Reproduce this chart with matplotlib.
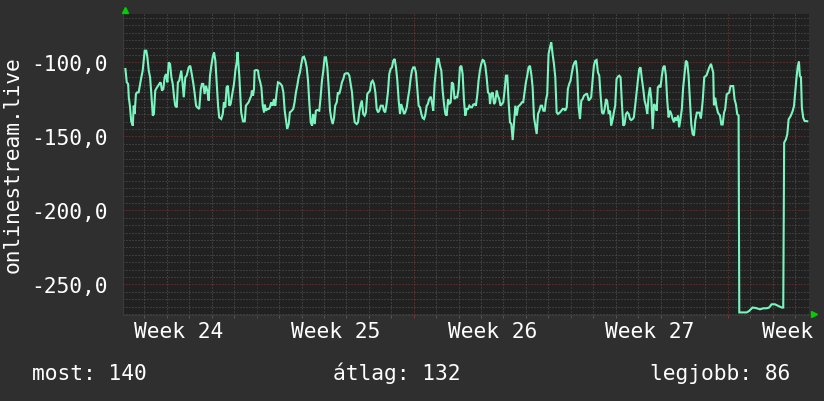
import matplotlib
matplotlib.use('Agg')
import matplotlib.pyplot as plt
from matplotlib.ticker import MultipleLocator, FuncFormatter

plt.rcParams['font.family'] = ['DejaVu Sans Mono']

# time in days since the start of week 24
days = [
    1.15, 1.21, 1.27, 1.30, 1.35, 1.41, 1.48, 1.52, 1.56, 1.62, 1.67, 1.74, 1.86, 1.92, 2.01, 2.08,
    2.13, 2.19, 2.25, 2.30, 2.37, 2.42, 2.48, 2.56, 2.66, 2.72, 2.78, 2.84, 2.90, 2.96, 3.02, 3.08,
    3.14, 3.20, 3.26, 3.32, 3.37, 3.44, 3.49, 3.55, 3.64, 3.70, 3.75, 3.82, 3.88, 3.97, 4.04, 4.12,
    4.18, 4.24, 4.30, 4.35, 4.44, 4.51, 4.56, 4.62, 4.68, 4.74, 4.80, 4.86, 4.92, 4.98, 5.04, 5.10,
    5.16, 5.22, 5.28, 5.33, 5.42, 5.49, 5.54, 5.60, 5.66, 5.72, 5.78, 5.84, 5.90, 5.99, 6.05, 6.11,
    6.15, 6.23, 6.26, 6.31, 6.39, 6.47, 6.52, 6.58, 6.64, 6.70, 6.76, 6.79, 6.84, 6.88, 6.91, 6.98,
    7.06, 7.10, 7.16, 7.21, 7.27, 7.33, 7.36, 7.42, 7.47, 7.54, 7.59, 7.65, 7.71, 7.77, 7.83, 7.89,
    7.95, 8.04, 8.13, 8.19, 8.25, 8.31, 8.36, 8.43, 8.48, 8.54, 8.63, 8.69, 8.75, 8.81, 8.87, 8.93,
    8.99, 9.05, 9.11, 9.17, 9.23, 9.29, 9.35, 9.41, 9.47, 9.52, 9.59, 9.64, 9.70, 9.79, 9.85, 9.91,
    9.97, 10.03, 10.09, 10.15, 10.21, 10.27, 10.33, 10.39, 10.45, 10.50, 10.57, 10.62, 10.68, 10.74,
    10.80, 10.86, 10.92, 10.98, 11.07, 11.13, 11.19, 11.25, 11.31, 11.37, 11.46, 11.52, 11.57, 11.64,
    11.69, 11.75, 11.81, 11.87, 11.93, 11.99, 12.05, 12.11, 12.17, 12.23, 12.29, 12.35, 12.41, 12.46,
    12.53, 12.62, 12.67, 12.73, 12.79, 12.85, 12.91, 12.97, 13.03, 13.09, 13.15, 13.21, 13.27, 13.33,
    13.39, 13.44, 13.51, 13.57, 13.62, 13.69, 13.74, 13.80, 13.86, 13.92, 13.98, 14.04, 14.10, 14.16,
    14.22, 14.28, 14.34, 14.40, 14.46, 14.51, 14.58, 14.63, 14.69, 14.76, 14.81, 14.87, 14.93, 14.99,
    15.05, 15.11, 15.17, 15.23, 15.29, 15.35, 15.41, 15.47, 15.53, 15.58, 15.65, 15.70, 15.76, 15.82,
    15.88, 15.94, 16.00, 16.06, 16.12, 16.18, 16.24, 16.30, 16.36, 16.42, 16.48, 16.54, 16.60, 16.65,
    16.72, 16.77, 16.83, 16.89, 16.95, 17.01, 17.07, 17.13, 17.19, 17.25, 17.31, 17.37, 17.40, 17.46,
    17.52, 17.58, 17.63, 17.70, 17.75, 17.81, 17.87, 17.93, 17.99, 18.05, 18.11, 18.17, 18.23, 18.29,
    18.35, 18.41, 18.47, 18.53, 18.59, 18.65, 18.70, 18.77, 18.82, 18.88, 18.94, 19.00, 19.06, 19.12,
    19.18, 19.24, 19.30, 19.36, 19.42, 19.48, 19.54, 19.60, 19.66, 19.72, 19.78, 19.84, 19.89, 19.95,
    20.01, 20.07, 20.13, 20.19, 20.25, 20.31, 20.37, 20.43, 20.52, 20.58, 20.64, 20.70, 20.75, 20.82,
    20.87, 20.93, 20.99, 21.05, 21.11, 21.17, 21.23, 21.29, 21.35, 21.41, 21.47, 21.53, 21.59, 21.68,
    21.73, 21.80, 21.85, 21.91, 21.97, 22.03, 22.09, 22.15, 22.21, 22.27, 22.33, 22.39, 22.45, 22.51,
    22.57, 22.62, 22.69, 22.75, 22.80, 22.87, 22.92, 22.98, 23.04, 23.10, 23.16, 23.22, 23.28, 23.34,
    23.40, 23.46, 23.52, 23.58, 23.64, 23.69, 23.76, 23.81, 23.87, 23.94, 23.99, 24.05, 24.11, 24.17,
    24.23, 24.29, 24.35, 24.41, 24.47, 24.53, 24.59, 24.65, 24.71, 24.76, 24.83, 24.88, 24.94, 25.00,
    25.06, 25.12, 25.18, 25.24, 25.30, 25.36, 25.42, 25.48, 25.54, 25.60, 25.65, 25.72, 25.78, 25.83,
    25.90, 25.95, 26.01, 26.07, 26.13, 26.19, 26.25, 26.31, 26.37, 26.43, 26.49, 26.55, 26.62, 26.73,
    26.80, 26.88, 26.95, 27.05, 27.17, 27.25, 27.31, 27.35, 27.38, 27.44, 27.49, 27.56, 27.65, 27.71,
    27.77, 27.83, 27.88, 27.95, 28.06, 28.12, 28.24, 28.30, 28.36, 28.42, 28.48, 28.51, 28.84, 28.95,
    29.10, 29.25, 29.43, 29.58, 29.73, 29.84, 29.95, 30.10, 30.25, 30.40, 30.47, 30.51, 30.59, 30.65,
    30.71, 30.80, 30.89, 30.95, 31.00, 31.06, 31.12, 31.17, 31.21, 31.26, 31.30, 31.36, 31.42, 31.54,
]

values = [
    -104.5, -113.5, -114.6, -123.6, -129.3, -139.9, -142.8, -129.3, -134.9, -121.4, -120.3, -120.3, -110.1, -105.6, -92.1, -92.1,
    -96.6, -105.6, -110.1, -120.3, -136.0, -134.9, -119.1, -116.9, -114.6, -113.5, -119.1, -118.0, -110.1, -107.9, -113.5, -100.0,
    -101.1, -110.1, -114.6, -123.6, -129.3, -130.4, -113.5, -112.4, -105.6, -114.6, -123.6, -110.1, -109.0, -103.4, -102.3, -109.0,
    -114.6, -121.4, -129.3, -130.4, -131.5, -118.0, -114.6, -114.6, -121.4, -115.8, -119.1, -125.9, -109.0, -102.3, -96.6, -93.2,
    -98.9, -114.6, -129.3, -137.2, -138.3, -134.9, -127.0, -130.4, -116.9, -115.8, -129.3, -128.2, -122.5, -114.6, -105.6, -100.0,
    -93.0, -110.1, -119.1, -133.8, -139.9, -139.9, -129.3, -128.2, -127.0, -124.8, -122.5, -119.1, -122.5, -118.0, -105.6, -105.2,
    -105.6, -110.1, -113.5, -116.9, -129.3, -133.8, -128.6, -132.7, -131.5, -131.5, -130.4, -127.0, -129.3, -124.8, -129.3, -120.3,
    -113.5, -114.2, -115.8, -120.3, -132.7, -139.4, -145.0, -141.7, -133.8, -133.1, -131.5, -127.0, -120.3, -115.8, -110.1, -106.8,
    -101.1, -96.6, -96.2, -98.9, -103.4, -112.4, -128.2, -140.5, -142.8, -134.9, -141.7, -132.7, -132.2, -132.7, -123.6, -112.4,
    -105.6, -96.6, -96.6, -103.4, -116.9, -132.7, -138.3, -141.7, -137.2, -129.3, -127.0, -120.3, -121.4, -118.0,
    -113.5, -111.3, -107.9, -107.4, -107.4, -109.0, -114.6, -120.3, -132.7, -140.5, -141.7, -140.5, -133.8, -128.2,
    -125.9, -134.9, -136.0, -133.8, -121.4, -120.3, -119.1, -113.5, -112.4, -114.6, -120.3, -131.5, -133.8, -132.7,
    -129.3, -129.3, -132.7, -133.8, -128.2, -120.3, -107.9, -104.5, -103.4, -98.9, -97.7, -103.4, -112.4, -125.9,
    -134.9, -128.2, -131.5, -134.9, -133.8, -130.4, -124.8, -119.1, -111.3, -105.6, -103.4, -103.4, -106.8, -118.0,
    -129.3, -130.4, -134.9, -137.6, -138.3, -136.0, -129.3, -128.2, -124.8, -123.2, -127.0, -132.7, -114.6, -105.6,
    -97.7, -97.7, -102.3, -105.6, -119.1, -128.2, -134.9, -136.0, -124.8, -128.2, -127.0, -113.5, -114.6, -124.8,
    -123.6, -123.6, -118.0, -103.4, -102.3, -107.9, -125.9, -136.0, -131.5, -131.5, -129.3, -130.4, -130.4, -128.6,
    -128.2, -129.3, -122.5, -112.4, -105.6, -101.1, -98.4, -98.9, -102.3, -110.1, -120.3, -121.4, -128.2, -121.4,
    -120.3, -128.2, -127.0, -119.1, -122.5, -124.8, -129.3, -128.2, -127.0, -119.1, -109.0, -109.0, -127.0, -140.5,
    -141.7, -152.5, -140.5, -129.3, -136.0, -130.0, -129.3, -128.2, -127.0, -127.0, -120.3, -113.5, -109.0, -103.4,
    -102.3, -107.9, -116.9, -137.2, -142.8, -148.4, -134.9, -132.7, -129.3, -129.3, -132.7, -132.7, -125.9, -121.4,
    -94.4, -89.9, -86.5, -94.4, -101.1, -110.1, -133.8, -134.9, -133.8, -132.7, -131.5, -131.5, -132.7, -130.4,
    -118.0, -114.6, -112.4, -106.8, -102.3, -100.0, -98.9, -107.9, -130.4, -138.3, -125.9, -124.8, -122.5, -121.4,
    -121.4, -125.9, -124.8, -123.6, -112.4, -102.3, -98.9, -98.4, -106.8, -109.0, -122.5, -133.8, -134.9, -131.5,
    -124.8, -125.9, -134.9, -132.7, -142.8, -138.3, -133.8, -129.3, -111.3, -109.7, -109.0, -110.1, -128.2, -142.8,
    -141.7, -134.9, -133.8, -134.9, -138.3, -139.0, -138.3, -137.2, -129.3, -119.1, -112.4, -104.5, -103.4, -111.3,
    -118.0, -125.9, -129.3, -134.9, -122.5, -116.9, -124.8, -145.0, -128.2, -129.3, -132.7, -116.9, -115.8, -116.9,
    -109.0, -103.4, -102.3, -109.0, -125.9, -137.2, -132.7, -134.9, -138.3, -140.5, -137.2, -139.4, -136.0, -143.9,
    -137.2, -131.5, -116.9, -107.9, -98.9, -100.0, -109.0, -124.8, -141.7, -148.4, -149.5, -139.4, -134.0, -134.0,
    -138.0, -126.0, -110.0, -108.8, -103.6, -101.0, -104.7, -107.0, -129.0, -123.9, -129.5, -134.0, -136.0, -142.0,
    -142.0, -134.0, -131.8, -121.6, -120.5, -116.0, -116.0, -125.0, -128.4, -135.0, -136.0, -269.0, -269.0, -268.0,
    -265.7, -266.0, -266.9, -266.2, -266.2, -265.7, -263.5, -263.5, -264.6, -265.7, -265.7, -154.3, -152.0, -148.6,
    -138.5, -136.3, -132.9, -129.5, -120.5, -110.4, -102.5, -99.5, -109.2, -110.0, -130.6, -137.4, -139.6, -139.8,
]

week_mid = [3.5, 10.5, 17.5, 24.5, 31.5]
week_labels = ['Week 24', 'Week 25', 'Week 26', 'Week 27', 'Week 28']
stat_labels = ['most: 140', 'átlag: 132', 'legjobb: 86']
stat_x = [32, 333, 650]

BG = '#2f2f2f'
CANVAS = '#212121'
LINE = '#7af5c0'
MINOR = '#575757'
MAJOR = '#7d3838'
ARROW = '#00d000'
TXT = '#ffffff'
FS = 15.3

fig = plt.figure(figsize=(8.24, 4.02), dpi=100, facecolor=BG)
ax = fig.add_axes([123.5 / 824, 1 - 315.5 / 402, 686 / 824, 301 / 402], facecolor=CANVAS)

ax.plot(days, values, color=LINE, linewidth=1.5, solid_joinstyle='miter', zorder=3)

ax.set_xlim(1.065, 31.64)
ax.set_ylim(-270.4, -67.0)

ax.xaxis.set_major_locator(MultipleLocator(7))
ax.xaxis.set_minor_locator(MultipleLocator(1))
ax.yaxis.set_major_locator(MultipleLocator(50))
ax.yaxis.set_minor_locator(MultipleLocator(5))
ax.set_axisbelow(True)
ax.grid(which='minor', color=MINOR, linestyle=(0, (1, 2)), linewidth=0.72)
ax.grid(which='major', color=MAJOR, linestyle=(0, (1, 2)), linewidth=0.72)

ax.yaxis.set_major_formatter(FuncFormatter(lambda v, p: f'{v:.1f}'.replace('.', ',')))
ax.tick_params(axis='y', which='both', length=0, pad=11, labelcolor=TXT, labelsize=FS)
ax.tick_params(axis='x', which='both', labelbottom=False, length=2, width=0.72)
ax.tick_params(axis='x', which='major', color=MAJOR)
ax.tick_params(axis='x', which='minor', color=MINOR)

for s in ['top', 'right']:
    ax.spines[s].set_visible(False)
for s in ['left', 'bottom']:
    ax.spines[s].set_color('#3a3a3a')
    ax.spines[s].set_linewidth(0.8)

# week labels sit mid-week; the last one runs off the right edge as in rrdtool
for xm, lab in zip(week_mid, week_labels):
    ax.text(xm, -0.0748, lab, transform=ax.get_xaxis_transform(), ha='center', va='baseline',
            color=TXT, fontsize=FS, clip_on=False)

# axis arrows
ax.plot([0.002], [1.013], marker='^', markersize=4, color=ARROW, transform=ax.transAxes, clip_on=False)
ax.plot([1.006], [0.002], marker='>', markersize=4, color=ARROW, transform=ax.transAxes, clip_on=False)

fig.text(13 / 824, 1 - 165 / 402, 'onlinestream.live', rotation=90, ha='center', va='center',
         color=TXT, fontsize=FS)

for xs, lab in zip(stat_x, stat_labels):
    fig.text(xs / 824, 1 - 380 / 402, lab, ha='left', va='baseline', color=TXT, fontsize=FS)

fig.savefig('out.png', dpi=100, facecolor=BG)
